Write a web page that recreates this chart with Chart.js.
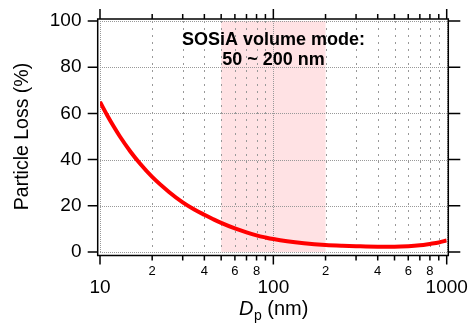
<!DOCTYPE html>
<html><head><meta charset="utf-8">
<script src="https://cdn.jsdelivr.net/npm/chart.js@4"></script>
<style>html,body{margin:0;padding:0;background:#fff;overflow:hidden}</style>
</head><body><canvas id="c" width="473" height="331"></canvas>
<script>
// ---- data ----
const diameters = [10,11,12,13,15,17,20,25,30,35,40,45,50,60,70,80,90,100,120,150,200,250,300,400,500,600,700,800,900,1000];
const particleLoss = [65,59.2,54.3,50.1,43.4,38.3,32.5,26,21.5,18.4,16.1,14.2,12.6,10.2,8.5,7.2,6.3,5.6,4.65,3.8,3.05,2.7,2.5,2.3,2.3,2.5,2.9,3.5,4.1,5.0];
const xTickValues = [10,20,30,40,50,60,70,80,90,100,200,300,400,500,600,700,800,900,1000];
const xMajorTicks = [10,100,1000];
const xTickLabels = {10:'10',20:'2',40:'4',60:'6',80:'8',100:'100',200:'2',400:'4',600:'6',800:'8',1000:'1000'};
const yTickValues = [0,10,20,30,40,50,60,70,80,90,100];
const yMajorTicks = [0,20,40,60,80,100];
const modeRange = [50,200];
const annotationLines = ['SOSiA volume mode:', '50 ~ 200 nm'];
const yTitle = 'Particle Loss (%)';
const xTitleParts = ['D', 'p', ' (nm)'];

const FONT = 'Liberation Sans, Arial, Helvetica, sans-serif';

const framePlugin = {
  id: 'frame',
  beforeDatasetsDraw(chart) {
    const {ctx, chartArea: a, scales: {x, y}} = chart;
    ctx.save();
    const x0 = x.getPixelForValue(modeRange[0]), x1 = x.getPixelForValue(modeRange[1]);
    ctx.fillStyle = '#ffe2e4';
    ctx.fillRect(x0, a.top, x1 - x0, a.bottom - a.top);
    ctx.lineWidth = 1;
    ctx.strokeStyle = '#999';
    x.ticks.forEach(t => {
      const px = Math.round(x.getPixelForValue(t.value)) + 0.5;
      ctx.setLineDash(xMajorTicks.includes(t.value) ? [1, 1] : [2, 5]);
      ctx.beginPath(); ctx.moveTo(px, a.top); ctx.lineTo(px, a.bottom); ctx.stroke();
    });
    y.ticks.forEach(t => {
      const py = Math.round(y.getPixelForValue(t.value)) + 0.5;
      ctx.setLineDash(yMajorTicks.includes(t.value) ? [1, 1] : [2, 5]);
      ctx.beginPath(); ctx.moveTo(a.left, py); ctx.lineTo(a.right, py); ctx.stroke();
    });
    ctx.restore();
  },
  afterDraw(chart) {
    const {ctx, chartArea: a, scales: {x, y}} = chart;
    const L = a.left - 2.3, R = a.right + 1.6, T = a.top - 2, B = a.bottom + 3.5;
    ctx.save();
    ctx.strokeStyle = '#000';
    ctx.lineWidth = 1.5;
    ctx.setLineDash([]);
    ctx.beginPath();
    ctx.moveTo(L, T); ctx.lineTo(R, T); ctx.lineTo(R, B); ctx.lineTo(L, B); ctx.closePath();
    ctx.stroke();
    ctx.beginPath();
    x.ticks.forEach(t => {
      const px = x.getPixelForValue(t.value);
      const maj = xMajorTicks.includes(t.value);
      ctx.moveTo(px, B); ctx.lineTo(px, B + (maj ? 9 : 5));
      ctx.moveTo(px, T); ctx.lineTo(px, T - (maj ? 10 : 5));
    });
    y.ticks.forEach(t => {
      const py = y.getPixelForValue(t.value);
      const maj = yMajorTicks.includes(t.value);
      ctx.moveTo(L, py); ctx.lineTo(L - (maj ? 10 : 6), py);
      ctx.moveTo(R, py); ctx.lineTo(R + (maj ? 12 : 7), py);
    });
    ctx.stroke();

    // annotation
    ctx.fillStyle = '#000';
    ctx.textAlign = 'center';
    ctx.textBaseline = 'middle';
    ctx.font = 'bold 18px ' + FONT;
    ctx.fillText(annotationLines[0], 273.5, 40);
    ctx.fillText(annotationLines[1], 273.5, 60.5);

    // x title
    ctx.textAlign = 'left';
    ctx.textBaseline = 'alphabetic';
    const fMain = '20px ' + FONT, fIt = 'italic 20px ' + FONT, fSub = '14px ' + FONT;
    ctx.font = fIt; const w0 = ctx.measureText(xTitleParts[0]).width;
    ctx.font = fSub; const w1 = ctx.measureText(xTitleParts[1]).width;
    ctx.font = fMain; const w2 = ctx.measureText(xTitleParts[2]).width;
    let sx = 273.5 - (w0 + w1 + w2) / 2;
    const base = 315;
    ctx.font = fIt; ctx.fillText(xTitleParts[0], sx, base); sx += w0 + 0.5;
    ctx.font = fSub; ctx.fillText(xTitleParts[1], sx, base + 5); sx += w1;
    ctx.font = fMain; ctx.fillText(xTitleParts[2], sx, base);
    ctx.restore();
  }
};

new Chart(document.getElementById('c'), {
  type: 'line',
  data: {
    datasets: [{
      data: diameters.map((d, i) => ({x: d, y: particleLoss[i]})),
      borderColor: '#ff0000',
      borderWidth: 4,
      pointRadius: 0,
      cubicInterpolationMode: 'monotone',
      fill: false
    }]
  },
  options: {
    responsive: false,
    animation: false,
    devicePixelRatio: 1,
    layout: {padding: {top: 21, right: 26.3, left: 0, bottom: 0}},
    plugins: {legend: {display: false}, tooltip: {enabled: false}},
    scales: {
      x: {
        type: 'logarithmic', min: 10, max: 1000,
        afterBuildTicks: s => { s.ticks = xTickValues.map(v => ({value: v, major: xMajorTicks.includes(v)})); },
        afterFit: s => { s.height = 79; s.paddingLeft = 0; s.paddingRight = 0; },
        grid: {display: false, drawTicks: false},
        border: {display: false},
        ticks: {
          autoSkip: false, maxRotation: 0, minRotation: 0, padding: 11.2, color: '#000',
          callback: v => {
            const l = xTickLabels[v];
            if (!l) return '';
            return xMajorTicks.includes(v) ? ['', l] : l;
          },
          font: c => (c.tick && xMajorTicks.includes(c.tick.value))
            ? {family: FONT, size: 19, lineHeight: 0.853}
            : {family: FONT, size: 13, lineHeight: 1.2}
        }
      },
      y: {
        min: 0, max: 100,
        afterBuildTicks: s => { s.ticks = yTickValues.map(v => ({value: v})); },
        afterFit: s => { s.width = 100; s.paddingTop = 0; s.paddingBottom = 0; },
        grid: {display: false, drawTicks: false},
        border: {display: false},
        ticks: {
          padding: 18.5, color: '#000',
          callback: v => yMajorTicks.includes(v) ? String(v) : '',
          font: {family: FONT, size: 19}
        },
        title: {display: true, text: yTitle, color: '#000', font: {family: FONT, size: 19.5}, padding: {top: 10.6, bottom: 0}}
      }
    }
  },
  plugins: [framePlugin]
});
</script>
</body></html>
